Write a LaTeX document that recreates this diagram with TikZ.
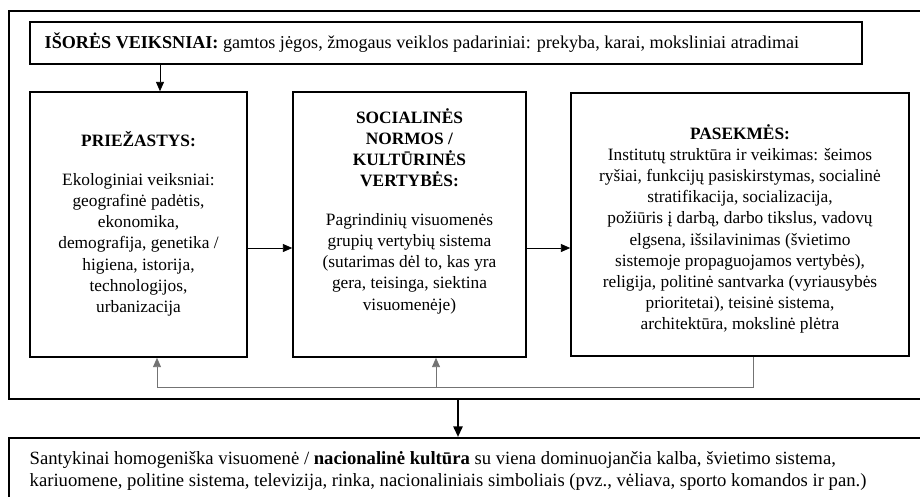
\documentclass[tikz,border=0pt]{standalone}
\usepackage{fontspec}
\setmainfont{Liberation Serif}
\usetikzlibrary{arrows.meta,fit}
\newcommand{\bt}[1]{\textbf{#1}}

\begin{document}
\begin{tikzpicture}[x=0.75pt,y=-0.75pt,
  frame/.style={draw=black,line width=1.6pt,inner sep=0pt},
  box/.style={draw=black,line width=1.2pt,inner sep=0pt},
  txt/.style={align=center,font=\fontsize{13}{15.9}\selectfont},
  arr/.style={-{Triangle[length=7pt,width=6pt]},line width=0.6pt},
  back/.style={draw=black!55,line width=0.7pt}]
  \useasboundingbox (0,0) rectangle (920,496);
  % frames
  \node[frame,fit={(9,11) (924,399)}] (outer) {};
  \node[frame,fit={(9,438) (924,505)}] (nat) {};
  \node[box,fit={(30,22) (862,64)}] (isor) {};
  \node[box,fit={(30,92) (247,357)}] (pri) {};
  \node[box,fit={(293,92) (526,357)}] (soc) {};
  \node[box,fit={(571,93) (909,356)}] (pas) {};
  % texts
  \node[txt,anchor=west,font=\fontsize{13.6}{16}\selectfont] (isorT) at (40,43)
    {\bt{IŠORĖS VEIKSNIAI:} gamtos jėgos, žmogaus veiklos padariniai: prekyba, karai, moksliniai atradimai};
  \node[txt] (priT) at (138.5,224)
    {\bt{PRIEŽASTYS:}\\[13pt] Ekologiniai veiksniai:\\ geografinė padėtis,\\ ekonomika,\\
     demografija, genetika /\\ higiena, istorija,\\ technologijos,\\ urbanizacija};
  \node[txt] (socT) at (409.5,211)
    {\bt{SOCIALINĖS}\\ \bt{NORMOS /}\\ \bt{KULTŪRINĖS}\\ \bt{VERTYBĖS:}\\[13pt]
     Pagrindinių visuomenės\\ grupių vertybių sistema\\ (sutarimas dėl to, kas yra\\
     gera, teisinga, siektina\\ visuomenėje)};
  \node[txt] (pasT) at (740,229)
    {\bt{PASEKMĖS:}\\ Institutų struktūra ir veikimas: šeimos\\ ryšiai, funkcijų pasiskirstymas, socialinė\\
     stratifikacija, socializacija,\\ požiūris į darbą, darbo tikslus, vadovų\\
     elgsena, išsilavinimas (švietimo\\ sistemoje propaguojamos vertybės),\\
     religija, politinė santvarka (vyriausybės\\ prioritetai), teisinė sistema,\\
     architektūra, mokslinė plėtra};
  \node[txt,align=left,anchor=north west,font=\fontsize{14}{16.2}\selectfont] (natT) at (25,447)
    {Santykinai homogeniška visuomenė / \bt{nacionalinė kultūra} su viena dominuojančia kalba, švietimo sistema,\\
     kariuomene, politine sistema, televizija, rinka, nacionaliniais simboliais (pvz., vėliava, sporto komandos ir pan.)};
  % arrows
  \draw[arr] (isor.south -| 160,0) -- (pri.north -| 160,0);
  \draw[arr] (pri.east |- 0,248) -- (soc.west |- 0,248);
  \draw[arr] (soc.east |- 0,248) -- (pas.west |- 0,248);
  \coordinate (fb) at (753,387);
  \draw[back] (pas.south -| fb) -- (fb) -- (157,387);
  \draw[back,arr,draw=black!55] (157,387) -- (pri.south -| 157,0);
  \draw[back,arr,draw=black!55] (436,387) -- (soc.south -| 436,0);
  \draw[-{Triangle[length=8pt,width=7pt]},line width=1.4pt] (outer.south -| 458,0) -- (nat.north -| 458,0);
\end{tikzpicture}
\end{document}
